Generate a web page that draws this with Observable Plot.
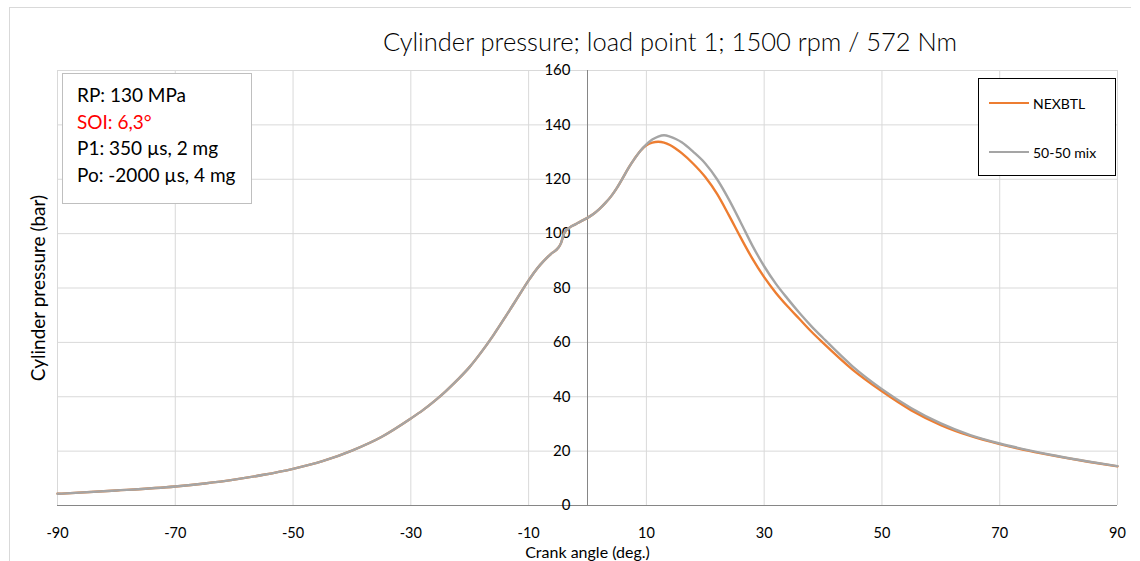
<!DOCTYPE html>
<html>
<head>
<meta charset="utf-8">
<script src="https://cdn.jsdelivr.net/npm/d3@7"></script>
<script src="https://cdn.jsdelivr.net/npm/@observablehq/plot@0.6"></script>
<style>
  html, body { margin: 0; padding: 0; background: #fff; }
  #wrap { position: relative; width: 1140px; height: 561px; overflow: hidden; font-family: Lato, "Open Sans", sans-serif; }
  #border { position: absolute; left: 9px; top: 7px; width: 1122px; height: 600px; border: 1px solid #d9d9d9; border-right: none; box-sizing: border-box; }
  #title { position: absolute; left: 0; width: 1340px; top: 26px; text-align: center; font-size: 25.5px; font-weight: 300; color: #000; white-space: nowrap; line-height: 31px; }
  #info { position: absolute; left: 62px; top: 73px; width: 190px; height: 131px; border: 1px solid #bfbfbf; box-sizing: border-box; background: #fff; padding: 8px 0 0 14px; font-size: 19px; line-height: 26.5px; color: #000; white-space: nowrap; }
  #legend { position: absolute; left: 978px; top: 78px; width: 138px; height: 98px; border: 1px solid #000; box-sizing: border-box; background: #fff; font-size: 14px; color: #000; }
  .lg { position: absolute; left: 10px; height: 16px; display: flex; align-items: center; }
  .lg span.sw { display: inline-block; width: 40px; height: 2.5px; margin-right: 4px; }
  #svgholder { position: absolute; left: 0; top: 0; }
</style>
</head>
<body>
<div id="wrap">
  <div id="border"></div>
  <div id="svgholder"></div>
  <div id="title"></div>
  <div id="info"></div>
  <div id="legend"></div>
</div>
<script>
// ---- data ----
const angles = [-90,-80,-70,-65,-60,-55,-50,-45,-40,-35,-30,-28,-26,-24,-22,-20,-18,-16,-14,-12,-10,-9,-8,-7,-6,-5,-4.5,-4,-3,-2,-1,0,1,2,3,4,5,6,7,8,9,10,11,12,13,14,15,16,18,20,22,24,26,28,30,32,34,36,38,40,45,50,55,60,65,70,75,80,85,90];
const nexbtl = [4.3,5.5,7.0,8.1,9.5,11.3,13.5,16.3,20.2,25.2,32.0,35.0,38.4,42.2,46.4,51.0,56.5,62.6,69.2,76.0,82.8,85.9,88.6,90.9,92.9,94.7,96.5,100.0,102.3,103.5,104.7,105.8,107.2,109.0,111.2,113.7,116.8,120.5,124.3,127.6,130.5,132.5,133.5,133.8,133.5,132.6,131.2,129.6,125.6,120.8,114.6,106.8,98.6,90.8,84.0,78.2,73.2,68.6,64.0,59.8,50.0,42.0,35.0,29.6,25.6,22.6,20.1,18.0,16.1,14.4];
const mix50 = [4.3,5.5,7.0,8.1,9.5,11.3,13.5,16.3,20.2,25.2,32.0,35.0,38.4,42.2,46.4,51.0,56.5,62.6,69.2,76.0,82.8,85.9,88.6,90.9,92.9,94.7,96.5,100.0,102.3,103.5,104.7,105.8,107.2,109.0,111.2,113.7,116.8,120.5,124.3,127.6,130.5,132.8,134.6,135.7,136.2,135.7,134.8,133.6,130.0,125.8,120.0,112.6,104.2,95.6,88.0,81.5,76.0,70.8,66.0,61.6,51.2,42.8,35.8,30.2,25.9,22.8,20.3,18.1,16.2,14.5];
const seriesNames = ["NEXBTL", "50-50 mix"];
const seriesColors = ["#ED7D31", "#A5A5A5"];
const xTicks = [-90,-70,-50,-30,-10,10,30,50,70,90];
const yTicks = [0,20,40,60,80,100,120,140,160];
const titleText = "Cylinder pressure; load point 1; 1500 rpm / 572 Nm";
const xLabel = "Crank angle (deg.)";
const yLabel = "Cylinder pressure (bar)";
const infoLines = [
  {text: "RP: 130 MPa", color: "#000"},
  {text: "SOI: 6,3°", color: "#FF0000"},
  {text: "P1: 350 µs, 2 mg", color: "#000"},
  {text: "Po: -2000 µs, 4 mg", color: "#000"}
];

const rows1 = angles.map((a, i) => ({angle: a, p: nexbtl[i], s: seriesNames[0]}));
const rows2 = angles.map((a, i) => ({angle: a, p: mix50[i], s: seriesNames[1]}));

const W = 1140, H = 561;
const chart = Plot.plot({
  width: W,
  height: H,
  marginLeft: 57,
  marginRight: 23,
  marginTop: 70,
  marginBottom: 56,
  style: {fontFamily: "Lato, 'Open Sans', sans-serif", fontSize: "15px", color: "#000", background: "transparent"},
  x: {domain: [-90, 90], axis: null},
  y: {domain: [0, 160], axis: null},
  marks: [
    Plot.ruleX(xTicks, {stroke: "#d9d9d9", strokeWidth: 1, y1: 0, y2: 160}),
    Plot.ruleY(yTicks.filter(d => d > 0), {stroke: "#d9d9d9", strokeWidth: 1, x1: -90, x2: 90}),
    Plot.ruleY([0], {stroke: "#868686", strokeWidth: 1, x1: -90, x2: 90}),
    Plot.ruleX([0], {stroke: "#868686", strokeWidth: 1, y1: 0, y2: 160}),
    Plot.text(yTicks, {x: 0, y: d => d, text: d => String(d), textAnchor: "end", dx: -17, fill: "#000", fontSize: 15}),
    Plot.text(xTicks, {x: d => d, y: 0, text: d => String(d), dy: 28, fill: "#000", fontSize: 14.5}),
    Plot.line(rows1, {x: "angle", y: "p", stroke: seriesColors[0], strokeWidth: 2.4, curve: "monotone-x"}),
    Plot.line(rows2, {x: "angle", y: "p", stroke: seriesColors[1], strokeWidth: 2.4, curve: "monotone-x"}),
    Plot.text([xLabel], {frameAnchor: "bottom", textAnchor: "middle", dy: 52, text: d => d, fill: "#000", fontSize: 16}),
    Plot.text([yLabel], {frameAnchor: "left", textAnchor: "middle", dx: -19, rotate: -90, text: d => d, fill: "#000", fontSize: 19})
  ]
});
document.getElementById("svgholder").appendChild(chart);

document.getElementById("title").textContent = titleText;
const info = document.getElementById("info");
infoLines.forEach(l => {
  const d = document.createElement("div");
  d.textContent = l.text;
  d.style.color = l.color;
  info.appendChild(d);
});
const legend = document.getElementById("legend");
seriesNames.forEach((n, i) => {
  const d = document.createElement("div");
  d.className = "lg";
  d.style.top = (i === 0 ? 16 : 65) + "px";
  const sw = document.createElement("span");
  sw.className = "sw";
  sw.style.background = seriesColors[i];
  d.appendChild(sw);
  d.appendChild(document.createTextNode(n));
  legend.appendChild(d);
});
</script>
</body>
</html>
